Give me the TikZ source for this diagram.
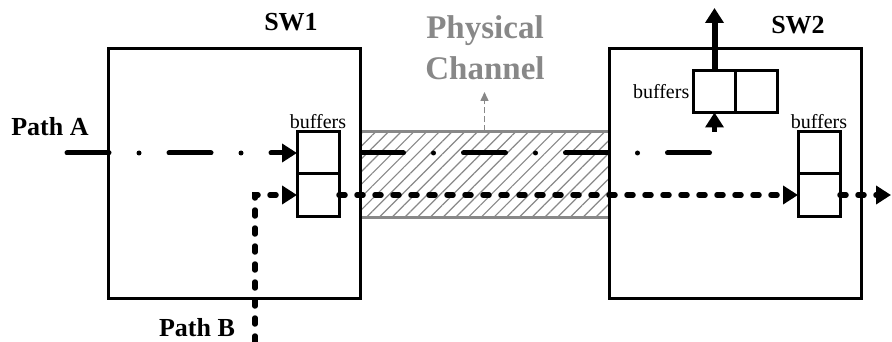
\documentclass[tikz,border=0pt]{standalone}
\usepackage{fontspec}
\setmainfont{Liberation Serif}
\usepackage{xcolor}
\usepackage{tikz}
\usetikzlibrary{positioning,arrows.meta,patterns.meta}
\definecolor{chgray}{RGB}{136,136,136}

\begin{document}
\begin{tikzpicture}[x=1pt, y=-1pt,
  switch/.style={draw, line width=3pt, minimum width=252pt, minimum height=249pt, inner sep=0pt},
  cell/.style={draw, line width=3pt, minimum width=42pt, minimum height=42pt,
               inner sep=0pt, outer sep=0pt},
  buflabel/.style={font=\fontsize{20}{22}\selectfont, inner sep=1pt},
  swlabel/.style={font=\fontsize{26}{30}\selectfont\bfseries},
  channel/.style={draw=chgray, line width=3pt, minimum width=249pt, minimum height=85pt,
                  pattern={Lines[angle=45, distance=9pt, line width=1.2pt]}, pattern color=chgray},
  arr/.style={-{Triangle[length=15pt, width=18pt]}},
  pathA/.style={line width=5pt, line cap=round, dash pattern=on 42pt off 30pt on 0pt off 30pt},
  pathB/.style={line width=5.5pt, line cap=round, dash pattern=on 6pt off 12pt},
  grayarr/.style={-{Triangle[length=9pt, width=8pt]}, draw=chgray, line width=1.5pt,
                  dash pattern=on 6pt off 3pt}
]
\useasboundingbox (0,0) rectangle (892,342);

%% --- Physical channel (behind switches) ---
\node[channel] (chan) at (484.5,174.5) {};
\node[swlabel, text=chgray, align=center, font=\fontsize{33}{41}\selectfont\bfseries]
  (phys) at (485,48) {Physical\\Channel};
\coordinate (chanTip) at (484.5,92);
\draw[grayarr] (chan.north) -- (chanTip);

%% --- Switches ---
\node[switch] (sw1) at (234,173.5) {};
\node[switch] (sw2) at (735,173.5) {};
\node[swlabel] at (291,22) {SW1};
\node[swlabel] at (798,25) {SW2};

%% --- Buffers in SW1 ---
\node[cell] (b1a) at (318,153) {};
\node[cell, below=0pt of b1a] (b1b) {};
\node[buflabel, above=2pt of b1a] {buffers};

%% --- Buffers in SW2 ---
\node[cell] (bt1) at (714.5,91.5) {};
\node[cell, right=0pt of bt1] (bt2) {};
\node[buflabel, left=3pt of bt1] {buffers};
\node[cell] (br1) at (819,153) {};
\node[cell, below=0pt of br1] (br2) {};
\node[buflabel, above=2pt of br1] {buffers};

%% --- Path A ---
\node[swlabel] at (50,127) {Path A};
\coordinate (startA) at (67,153);
\coordinate (endA) at (710,153);
\draw[pathA, arr] (startA) -- (b1a.west);
\draw[pathA] (sw1.east |- b1a) -- (endA);
\coordinate (inA) at (714.5,132);
\coordinate (outA) at (714.5,8);
\draw[arr, line width=5pt] (inA) -- (bt1.south);
\draw[arr, line width=6pt] (bt1.north) -- (outA);

%% --- Path B ---
\node[swlabel] at (197,328) {Path B};
\coordinate (startB) at (255,342);
\coordinate (endB) at (891,195);
\draw[pathB, arr] (startB) |- (b1b.west);
\draw[pathB, arr] (b1b.east) -- (br2.west);
\draw[pathB, arr] (br2.east) -- (endB);
\end{tikzpicture}
\end{document}
